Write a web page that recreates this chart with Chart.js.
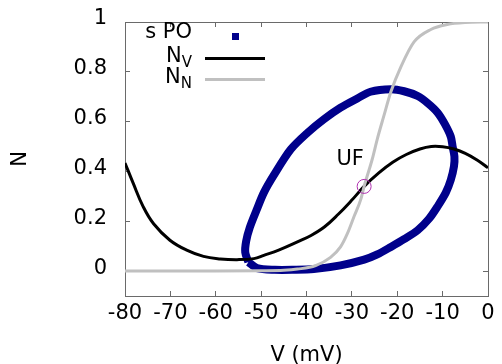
<!DOCTYPE html>
<html>
<head>
<meta charset="utf-8">
<script src="https://cdn.jsdelivr.net/npm/chart.js@4"></script>
<style>
  html, body { margin: 0; padding: 0; background: #fff; }
  #wrap { width: 502px; height: 364px; }
</style>
</head>
<body>
<div id="wrap"><canvas id="phasePlane"></canvas></div>
<script>
// V nullcline (N_V)
const nvV = [-80, -78.2, -76, -73.7, -70.1, -66.4, -62.7, -59, -55.3, -51.6, -49.4, -46, -42, -39, -36, -33, -30, -27.3, -24, -21, -18, -15, -12.5, -10, -7.5, -5, -2.5, 0];
const nvN = [0.434, 0.353, 0.259, 0.19, 0.124, 0.084, 0.059, 0.049, 0.046, 0.05, 0.063, 0.085, 0.117, 0.143, 0.178, 0.228, 0.285, 0.34, 0.395, 0.437, 0.468, 0.49, 0.50, 0.499, 0.49, 0.473, 0.447, 0.415];

// N nullcline (N_N)
const nnV = [-80, -60, -50, -45, -42, -38, -34.7, -32.5, -31, -29.5, -28, -27.3, -25.5, -24.4, -23, -21.4, -19.2, -16.3, -12.6, -9, -5, 0];
const nnN = [0, 0, 0.001, 0.003, 0.008, 0.022, 0.055, 0.097, 0.15, 0.22, 0.29, 0.34, 0.45, 0.53, 0.62, 0.72, 0.82, 0.92, 0.97, 0.99, 0.998, 1];

// stable periodic orbit (s PO)
const poV = [-52.8, -50.9, -47, -43, -38.4, -32.5, -27.3, -24.4, -21.4, -18.5, -15.5, -13, -11.1, -9.3, -8.2, -7.5, -7.4, -7.8, -8.2, -9.5, -11.1, -13.2, -15.5, -18.5, -21.4, -25.9, -28.8, -32.5, -36.2, -39.8, -43.5, -47.2, -49.4, -51, -52.5, -53.3, -53.5, -52.8];
const poN = [0.036, 0.012, 0.005, 0.005, 0.008, 0.023, 0.046, 0.067, 0.097, 0.128, 0.164, 0.21, 0.26, 0.315, 0.366, 0.42, 0.46, 0.50, 0.54, 0.59, 0.636, 0.673, 0.703, 0.722, 0.73, 0.72, 0.693, 0.656, 0.609, 0.555, 0.488, 0.385, 0.315, 0.245, 0.175, 0.12, 0.075, 0.036];

// unstable focus
const ufV = [-27.3];
const ufN = [0.34];
const ufText = 'UF';

const xTicks = [-80, -70, -60, -50, -40, -30, -20, -10, 0];
const yTicks = [0, 0.2, 0.4, 0.6, 0.8, 1];

const pts = (xs, ys) => xs.map((x, i) => ({ x: x, y: ys[i] }));
const FONT = 'DejaVu Sans';
const FRAME = '#6a6a6a';

// legend with subscripts + UF label
const subLegend = {
  id: 'subLegend',
  afterDraw(chart) {
    const ctx = chart.ctx;
    ctx.save();
    ctx.fillStyle = '#000';
    ctx.textBaseline = 'middle';
    ctx.textAlign = 'right';
    const right = 192, rows = [33, 57, 78];
    chart.data.datasets.slice(0, 3).forEach((ds, i) => {
      const y = rows[i];
      const parts = ds.label.split('_');
      let x = right;
      if (parts.length > 1) {
        ctx.font = '15px "' + FONT + '"';
        ctx.fillText(parts[1], x, y + 6);
        x -= ctx.measureText(parts[1]).width;
      }
      ctx.font = '21px "' + FONT + '"';
      ctx.fillText(parts[0], x, y);
      ctx.fillStyle = ds.borderColor;
      if (ds.showLine === false) {
        ctx.fillRect(232, y, 7, 7);
      } else {
        ctx.fillRect(205, y, 60, 3);
      }
      ctx.fillStyle = '#000';
    });
    const xs = chart.scales.x, ys = chart.scales.y;
    ctx.textAlign = 'center';
    ctx.font = '21px "' + FONT + '"';
    ctx.fillText(ufText, xs.getPixelForValue(ufV[0]) - 14, ys.getPixelForValue(ufN[0]) - 27);
    ctx.restore();
  }
};

// inward tick marks and a full box, using the scales' own grid/border
const frameGrid = { display: true, drawOnChartArea: false, drawTicks: true, tickLength: -5, color: FRAME, lineWidth: 1 };
const frameBorder = { display: true, color: FRAME, width: 1 };

new Chart(document.getElementById('phasePlane'), {
  type: 'scatter',
  data: {
    datasets: [{
      label: 's PO',
      data: pts(poV, poN),
      showLine: false,
      borderColor: '#00008b',
      backgroundColor: '#00008b',
      pointRadius: 0,
      order: 4
    }, {
      label: 'N_V',
      data: pts(nvV, nvN),
      showLine: true,
      borderColor: '#000000',
      borderWidth: 3,
      pointRadius: 0,
      tension: 0.4,
      order: 3
    }, {
      label: 'N_N',
      data: pts(nnV, nnN),
      showLine: true,
      borderColor: '#c0c0c0',
      borderWidth: 3,
      pointRadius: 0,
      cubicInterpolationMode: 'monotone',
      order: 2
    }, {
      label: 'UF',
      data: pts(ufV, ufN),
      showLine: false,
      pointStyle: 'circle',
      pointRadius: 7,
      borderColor: '#b030b0',
      backgroundColor: 'rgba(0,0,0,0)',
      borderWidth: 1,
      order: 1
    }, {
      // periodic orbit drawn as thick closed band
      label: 'orbit',
      data: pts(poV, poN),
      showLine: true,
      borderColor: '#00008b',
      borderWidth: 8,
      pointRadius: 0,
      tension: 0.3,
      order: 5
    }]
  },
  options: {
    responsive: true,
    maintainAspectRatio: false,
    animation: false,
    layout: { padding: { top: 22, right: 14, left: 0, bottom: 0 } },
    plugins: {
      legend: { display: false },
      tooltip: { enabled: false }
    },
    scales: {
      x: {
        type: 'linear',
        position: 'bottom',
        min: -80,
        max: 0,
        afterBuildTicks: s => { s.ticks = xTicks.map(v => ({ value: v })); },
        afterFit: s => { s.height = 68; s.paddingLeft = 0; s.paddingRight = 0; },
        grid: frameGrid,
        border: frameBorder,
        ticks: {
          color: '#000',
          padding: 10,
          maxRotation: 0,
          font: { family: FONT, size: 21 },
          callback: v => String(v)
        },
        title: {
          display: true,
          text: 'V (mV)',
          color: '#000',
          font: { family: FONT, size: 21, lineHeight: 0.8 },
          padding: { top: 0, bottom: 0 }
        }
      },
      x2: {
        type: 'linear',
        position: 'top',
        min: -80,
        max: 0,
        afterBuildTicks: s => { s.ticks = xTicks.map(v => ({ value: v })); },
        afterFit: s => { s.height = 0; s.paddingLeft = 0; s.paddingRight = 0; },
        grid: frameGrid,
        border: frameBorder,
        ticks: { display: false }
      },
      y: {
        type: 'linear',
        position: 'left',
        min: -0.1,
        max: 1,
        afterBuildTicks: s => { s.ticks = yTicks.map(v => ({ value: v })); },
        afterFit: s => { s.width = 125; s.paddingTop = 0; s.paddingBottom = 0; },
        grid: frameGrid,
        border: frameBorder,
        ticks: {
          color: '#000',
          padding: 23,
          labelOffset: -3,
          font: { family: FONT, size: 21 },
          callback: v => String(v)
        },
        title: {
          display: true,
          text: 'N',
          color: '#000',
          font: { family: FONT, size: 21, lineHeight: 1 },
          padding: { top: 10, bottom: 0 }
        }
      },
      y2: {
        type: 'linear',
        position: 'right',
        min: -0.1,
        max: 1,
        afterBuildTicks: s => { s.ticks = yTicks.map(v => ({ value: v })); },
        afterFit: s => { s.width = 0; s.paddingTop = 0; s.paddingBottom = 0; },
        grid: frameGrid,
        border: frameBorder,
        ticks: { display: false }
      }
    }
  },
  plugins: [subLegend]
});
</script>
</body>
</html>
